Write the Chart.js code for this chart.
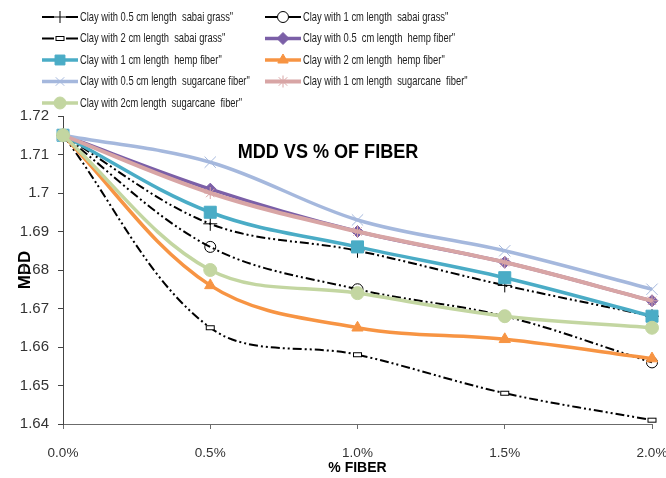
<!DOCTYPE html>
<html>
<head>
<meta charset="utf-8">
<script src="https://cdn.jsdelivr.net/npm/chart.js@4/dist/chart.umd.min.js"></script>
<style>
  html, body { margin: 0; padding: 0; background: #fff; }
  #wrap { width: 666px; height: 478px; }
</style>
</head>
<body>
<div id="wrap"><canvas id="chart"></canvas></div>
<script>
const fiberPct = [0, 0.5, 1, 1.5, 2];
const xTickLabels = ["0.0%", "0.5%", "1.0%", "1.5%", "2.0%"];
const yTickLabels = ["1.64", "1.65", "1.66", "1.67", "1.68", "1.69", "1.7", "1.71", "1.72"];

const seriesNames = [
  'Clay with 0.5 cm length  sabai grass"',
  'Clay with 1 cm length  sabai grass"',
  'Clay with 2 cm length  sabai grass"',
  'Clay with 0.5  cm length  hemp fiber"',
  'Clay with 1 cm length  hemp fiber"',
  'Clay with 2 cm length  hemp fiber"',
  'Clay with 0.5 cm length  sugarcane fiber"',
  'Clay with 1 cm length  sugarcane  fiber"',
  'Clay with 2cm length  sugarcane  fiber"',
];

const sabai05 = [1.715, 1.692, 1.685, 1.676, 1.668];
const sabai1  = [1.715, 1.686, 1.675, 1.668, 1.656];
const sabai2  = [1.715, 1.665, 1.658, 1.648, 1.641];
const hemp05  = [1.715, 1.701, 1.690, 1.682, 1.672];
const hemp1   = [1.715, 1.695, 1.686, 1.678, 1.668];
const hemp2   = [1.715, 1.676, 1.665, 1.662, 1.657];
const cane05  = [1.715, 1.708, 1.693, 1.685, 1.675];
const cane1   = [1.715, 1.700, 1.690, 1.682, 1.672];
const cane2   = [1.715, 1.680, 1.674, 1.668, 1.665];

const FONT = "'Liberation Sans', Arial, sans-serif";
const blackDash = [9, 3, 2, 3, 2, 3];

// small flat rectangle marker used by the 2 cm sabai series
const flatRect = document.createElement("canvas");
flatRect.width = 11;
flatRect.height = 7;
(function () {
  const c = flatRect.getContext("2d");
  c.fillStyle = "#fff";
  c.fillRect(1.5, 1.5, 8, 4);
  c.strokeStyle = "#000";
  c.lineWidth = 1;
  c.strokeRect(1.5, 1.5, 8, 4);
})();

function pts(values) {
  return values.map((v, i) => ({ x: fiberPct[i], y: v }));
}

const styles = [
  { data: sabai05, color: "#000", width: 2, dash: blackDash, point: "cross", radius: 7, fill: "#000" },
  { data: sabai1, color: "#000", width: 2, dash: blackDash, point: "circle", radius: 5.5, fill: "rgba(0,0,0,0)" },
  { data: sabai2, color: "#000", width: 2, dash: blackDash, point: flatRect, radius: 5, fill: "#fff" },
  { data: hemp05, color: "#7B5FA7", width: 3.5, dash: [], point: "rectRot", radius: 6, fill: "#7B5FA7" },
  { data: hemp1, color: "#4AACC6", width: 3.5, dash: [], point: "rect", radius: 8.5, fill: "#4AACC6" },
  { data: hemp2, color: "#F79443", width: 3.5, dash: [], point: "triangle", radius: 6.5, fill: "#F79443" },
  { data: cane05, color: "#A5B8DD", width: 3.5, dash: [], point: "crossRot", radius: 8, fill: "#A5B8DD" },
  { data: cane1, color: "#D8A5A5", width: 4, dash: [], point: "star", radius: 6, fill: "#D8A5A5" },
  { data: cane2, color: "#C3D6A1", width: 3.5, dash: [], point: "circle", radius: 6.5, fill: "#C3D6A1" },
];

const datasets = styles.map((s, i) => ({
  label: seriesNames[i],
  data: pts(s.data),
  borderColor: s.color,
  borderWidth: s.width,
  borderDash: s.dash,
  tension: 0.35,
  pointStyle: s.point,
  pointRadius: s.radius,
  pointBackgroundColor: s.fill,
  pointBorderColor: s.color,
  pointBorderWidth: 1,
  order: styles.length - i,
  clip: false,
}));

// two column legend like the spreadsheet one
const legendPlugin = {
  id: "twoColLegend",
  afterDraw(chart) {
    const ctx = chart.ctx;
    const colX = [42, 265];
    ctx.save();
    chart.data.datasets.forEach((ds, i) => {
      const x = colX[i % 2];
      const y = 17 + Math.floor(i / 2) * 21.5;
      ctx.strokeStyle = ds.borderColor;
      ctx.lineWidth = ds.borderWidth;
      ctx.beginPath();
      if (ds.borderDash.length) {
        ctx.moveTo(x, y); ctx.lineTo(x + 12, y);
        ctx.moveTo(x + 24, y); ctx.lineTo(x + 36, y);
      } else {
        ctx.moveTo(x, y); ctx.lineTo(x + 36, y);
      }
      ctx.stroke();
      ctx.fillStyle = ds.pointBackgroundColor;
      ctx.strokeStyle = ds.pointBorderColor;
      ctx.lineWidth = ds.pointBorderWidth;
      Chart.helpers.drawPoint(ctx, {
        pointStyle: ds.pointStyle,
        radius: ds.pointStyle === "rect" ? 7 : Math.min(ds.pointRadius, 6),
        rotation: 0,
        borderWidth: ds.pointBorderWidth,
      }, x + 18, y);

      // narrow text, like the condensed spreadsheet font
      ctx.save();
      ctx.translate(x + 38, y);
      ctx.scale(0.72, 1);
      ctx.fillStyle = "#222";
      ctx.font = "13px " + FONT;
      ctx.textAlign = "left";
      ctx.textBaseline = "middle";
      ctx.fillText(ds.label, 0, 0);
      ctx.restore();
    });
    ctx.restore();
  },
};

const titlePlugin = {
  id: "innerTitle",
  afterDraw(chart) {
    const ctx = chart.ctx;
    ctx.save();
    ctx.translate(328, 152);
    ctx.scale(0.86, 1);
    ctx.fillStyle = "#000";
    ctx.font = "bold 21px " + FONT;
    ctx.textAlign = "center";
    ctx.textBaseline = "middle";
    ctx.fillText("MDD VS % OF FIBER", 0, 0);
    ctx.restore();
  },
};

new Chart(document.getElementById("chart"), {
  type: "line",
  data: { datasets },
  options: {
    responsive: true,
    maintainAspectRatio: false,
    animation: false,
    layout: { padding: { top: 116, right: 0, left: 0, bottom: 0 } },
    plugins: {
      legend: { display: false },
      tooltip: { enabled: false },
    },
    scales: {
      x: {
        type: "linear",
        min: 0,
        max: 2,
        afterFit(scale) {
          scale.height = 54;
          scale.paddingLeft = 0;
          scale.paddingRight = 14;
        },
        border: { display: true, color: "#6b6b6b", width: 1 },
        grid: { drawOnChartArea: false, drawTicks: true, tickLength: 5, color: "#6b6b6b" },
        ticks: {
          stepSize: 0.5,
          padding: 16,
          color: "#333",
          font: { family: FONT, size: 13.5 },
          maxRotation: 0,
          callback: (v) => xTickLabels[fiberPct.indexOf(v)],
        },
        title: {
          display: true,
          text: "% FIBER",
          color: "#000",
          font: { family: FONT, size: 14, weight: "bold" },
          padding: { top: 0, bottom: 1 },
        },
      },
      y: {
        min: 1.64,
        max: 1.72,
        afterFit(scale) { scale.width = 63; },
        border: { display: true, color: "#444", width: 1 },
        grid: { drawOnChartArea: false, drawTicks: true, tickLength: 5, color: "#444" },
        ticks: {
          stepSize: 0.01,
          padding: 9,
          color: "#333",
          font: { family: FONT, size: 15 },
          callback: (v, i) => yTickLabels[i],
        },
        title: {
          display: true,
          text: "MDD",
          color: "#000",
          font: { family: FONT, size: 17, weight: "bold" },
          padding: { top: 15, bottom: 0 },
        },
      },
    },
  },
  plugins: [legendPlugin, titlePlugin],
});
</script>
</body>
</html>
